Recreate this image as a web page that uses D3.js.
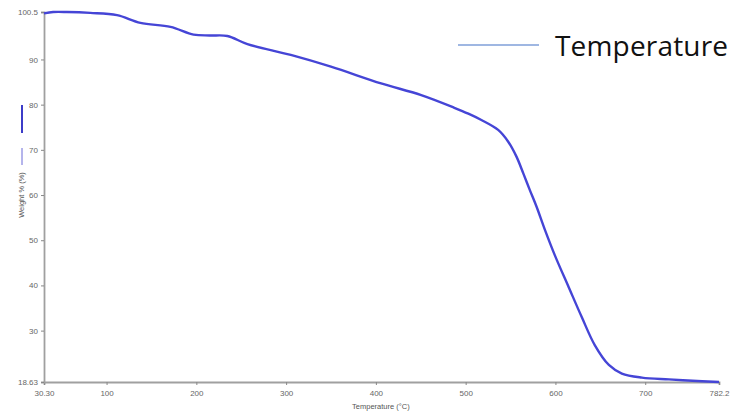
<!DOCTYPE html>
<html>
<head>
<meta charset="utf-8">
<script src="https://cdn.jsdelivr.net/npm/d3@7"></script>
<style>
  body { margin: 0; background: #fff; }
  .tick text { font-family: "Liberation Sans", Arial, sans-serif; font-size: 8px; fill: #666; }
</style>
</head>
<body>
<script>

// TGA curve
var temperature = [30.3, 40.5, 55.8, 81.8, 111.6, 137.7, 171.2, 196.9, 215, 234.5, 256.9, 305.2, 349.9, 405.8, 450.5, 487.4, 503.0, 517.5, 536.2, 547.4, 556.6, 564.2, 571.5, 579.0, 588.3, 599.5, 614.8, 629.3, 643.8, 659.5, 674.0, 696.3, 726.5, 763.4, 782.2];
var weight = [100.2, 100.5, 100.5, 100.3, 99.8, 98.1, 97.2, 95.5, 95.3, 95.2, 93.4, 91.0, 88.4, 84.7, 82.1, 79.3, 78.0, 76.6, 74.4, 71.8, 68.5, 64.8, 61.1, 57.4, 52.3, 46.6, 39.6, 33.0, 26.8, 22.4, 20.5, 19.6, 19.2, 18.8, 18.63];

var xTicks = [30.3, 100, 200, 300, 400, 500, 600, 700, 782.2];
var xTickLabels = ["30.30", "100", "200", "300", "400", "500", "600", "700", "782.2"];
var yTicks = [18.63, 30, 40, 50, 60, 70, 80, 90, 100.5];
var yTickLabels = ["18.63", "30", "40", "50", "60", "70", "80", "90", "100.5"];

var width = 740, height = 415;
var margin = {top: 12, right: 21, bottom: 33, left: 44};

var svg = d3.select("body").append("svg")
  .attr("width", width)
  .attr("height", height);

var xScale = d3.scaleLinear()
  .domain([30.3, 782.2])
  .range([margin.left, width - margin.right]);

var yScale = d3.scaleLinear()
  .domain([18.63, 100.5])
  .range([height - margin.bottom, margin.top]);

// Axes
var xAxis = d3.axisBottom(xScale)
  .tickValues(xTicks)
  .tickSize(3)
  .tickPadding(5)
  .tickFormat(function(d, i) { return xTickLabels[i]; });

var yAxis = d3.axisLeft(yScale)
  .tickValues(yTicks)
  .tickSize(3)
  .tickPadding(3)
  .tickFormat(function(d, i) { return yTickLabels[i]; });

var gx = svg.append("g")
  .attr("transform", "translate(0," + (height - margin.bottom) + ")")
  .call(xAxis);

var gy = svg.append("g")
  .attr("transform", "translate(" + margin.left + ",0)")
  .call(yAxis);

[gx, gy].forEach(function(g) {
  g.select(".domain").attr("stroke", "#a0a0a0").attr("stroke-width", 1.8);
  g.selectAll(".tick line").attr("stroke", "#888");
});

// Curve
var line = d3.line()
  .x(function(d, i) { return xScale(temperature[i]); })
  .y(function(d) { return yScale(d); })
  .curve(d3.curveCatmullRom.alpha(0.5));

svg.append("path")
  .datum(weight)
  .attr("fill", "none")
  .attr("stroke", "#4545d6")
  .attr("stroke-width", 2.4)
  .attr("d", line);

// Axis titles
svg.append("text")
  .attr("x", xScale(400) + 5)
  .attr("y", 409)
  .attr("text-anchor", "middle")
  .style("font-family", "Liberation Sans, Arial, sans-serif")
  .style("font-size", "7.5px")
  .style("fill", "#555")
  .text("Temperature (°C)");

svg.append("text")
  .attr("transform", "translate(24,195) rotate(-90)")
  .attr("text-anchor", "middle")
  .style("font-family", "Liberation Sans, Arial, sans-serif")
  .style("font-size", "7.5px")
  .style("fill", "#555")
  .text("Weight % (%)");

// Little series markers next to the y title
svg.append("line").attr("x1", 22).attr("x2", 22).attr("y1", 105).attr("y2", 133)
  .attr("stroke", "#3c3cc8").attr("stroke-width", 2);
svg.append("line").attr("x1", 22).attr("x2", 22).attr("y1", 148).attr("y2", 165)
  .attr("stroke", "#6a6ad8").attr("stroke-width", 1);

// Legend
svg.append("line").attr("x1", 458).attr("x2", 539).attr("y1", 45).attr("y2", 45)
  .attr("stroke", "#7f9fd8").attr("stroke-width", 1.5);
svg.append("text")
  .attr("x", 555)
  .attr("y", 56)
  .attr("textLength", 173)
  .style("font-family", "Open Sans, Noto Sans, sans-serif")
  .style("font-size", "28px")
  .style("fill", "#111")
  .text("Temperature");

</script>
</body>
</html>
